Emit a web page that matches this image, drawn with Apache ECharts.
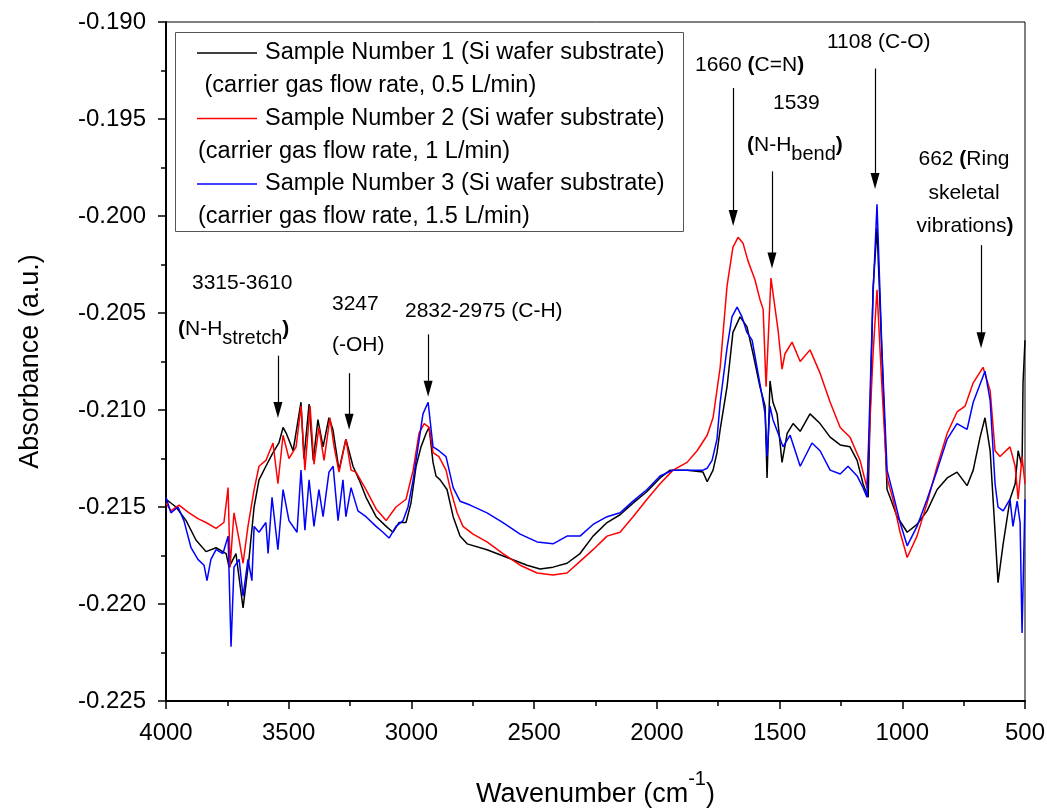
<!DOCTYPE html>
<html>
<head>
<meta charset="utf-8">
<title>FTIR spectra</title>
<script src="https://cdn.jsdelivr.net/npm/echarts@6/dist/echarts.min.js"></script>
<style>
    html, body {margin: 0; padding: 0; background: #fff;}
    #chart {width: 1047px; height: 808px;}
</style>
</head>
<body>
<div id="chart"></div>
<script>
// sample 1 (black), 0.5 L/min
const wn1 = [4000, 3959, 3918, 3878, 3837, 3796, 3755, 3743, 3715, 3686, 3662, 3641, 3621, 3593, 3564, 3540, 3523, 3510, 3482, 3450, 3438, 3417, 3400, 3381, 3360, 3336, 3320, 3295, 3267, 3238, 3213, 3185, 3144, 3103, 3075, 3051, 3022, 3002, 2981, 2961, 2940, 2928, 2912, 2900, 2883, 2855, 2830, 2802, 2773, 2692, 2610, 2529, 2476, 2423, 2366, 2313, 2260, 2203, 2150, 2097, 2040, 1987, 1946, 1877, 1812, 1795, 1771, 1755, 1742, 1714, 1690, 1661, 1633, 1608, 1580, 1559, 1551, 1539, 1527, 1510, 1490, 1469, 1445, 1416, 1376, 1335, 1294, 1253, 1213, 1184, 1160, 1139, 1119, 1103, 1083, 1062, 1050, 1021, 980, 940, 899, 858, 817, 777, 736, 711, 683, 663, 642, 622, 610, 589, 561, 540, 528, 512, 508, 500];
const abs1 = [-0.2146, -0.2150, -0.2157, -0.2167, -0.2173, -0.2171, -0.2174, -0.2181, -0.2174, -0.2202, -0.2177, -0.2150, -0.2136, -0.2129, -0.2122, -0.2117, -0.2109, -0.2112, -0.2121, -0.2096, -0.2125, -0.2097, -0.2126, -0.2105, -0.2119, -0.2104, -0.2110, -0.2131, -0.2115, -0.2129, -0.2136, -0.2145, -0.2155, -0.2160, -0.2163, -0.2158, -0.2158, -0.2148, -0.2129, -0.2119, -0.2112, -0.2109, -0.2127, -0.2134, -0.2136, -0.2141, -0.2155, -0.2165, -0.2169, -0.2172, -0.2176, -0.2180, -0.2182, -0.2181, -0.2179, -0.2174, -0.2165, -0.2158, -0.2154, -0.2148, -0.2142, -0.2135, -0.2131, -0.2131, -0.2132, -0.2137, -0.2131, -0.2122, -0.2110, -0.2088, -0.2060, -0.2052, -0.2057, -0.2071, -0.2088, -0.2098, -0.2135, -0.2085, -0.2096, -0.2102, -0.2127, -0.2112, -0.2107, -0.2111, -0.2102, -0.2107, -0.2114, -0.2118, -0.2119, -0.2126, -0.2138, -0.2145, -0.2037, -0.2006, -0.2071, -0.2141, -0.2145, -0.2155, -0.2163, -0.2159, -0.2152, -0.2141, -0.2135, -0.2132, -0.2139, -0.2131, -0.2114, -0.2104, -0.2121, -0.2163, -0.2189, -0.2169, -0.2146, -0.2138, -0.2121, -0.2129, -0.2086, -0.2064];

// sample 2 (red), 1 L/min
const wn2 = [4000, 3980, 3947, 3906, 3870, 3837, 3796, 3764, 3747, 3739, 3723, 3702, 3686, 3666, 3641, 3621, 3593, 3564, 3544, 3523, 3499, 3470, 3450, 3434, 3413, 3397, 3377, 3356, 3332, 3315, 3295, 3267, 3246, 3226, 3185, 3144, 3103, 3063, 3022, 2993, 2969, 2948, 2928, 2912, 2888, 2859, 2843, 2814, 2790, 2749, 2692, 2627, 2557, 2488, 2423, 2366, 2313, 2260, 2203, 2150, 2097, 2040, 1987, 1934, 1877, 1836, 1795, 1771, 1742, 1714, 1690, 1669, 1649, 1629, 1600, 1580, 1567, 1555, 1535, 1519, 1506, 1490, 1478, 1449, 1416, 1376, 1335, 1294, 1253, 1213, 1172, 1144, 1119, 1103, 1083, 1062, 1038, 1009, 980, 940, 899, 858, 817, 777, 744, 711, 671, 642, 622, 602, 561, 540, 528, 512, 500];
const abs2 = [-0.2148, -0.2152, -0.2149, -0.2153, -0.2156, -0.2158, -0.2161, -0.2158, -0.2140, -0.2181, -0.2153, -0.2167, -0.2179, -0.2160, -0.2141, -0.2129, -0.2126, -0.2117, -0.2138, -0.2113, -0.2125, -0.2119, -0.2098, -0.2131, -0.2098, -0.2128, -0.2109, -0.2126, -0.2104, -0.2119, -0.2132, -0.2115, -0.2131, -0.2132, -0.2141, -0.2151, -0.2157, -0.2150, -0.2146, -0.2131, -0.2112, -0.2107, -0.2109, -0.2122, -0.2124, -0.2131, -0.2140, -0.2153, -0.2160, -0.2164, -0.2168, -0.2174, -0.2180, -0.2184, -0.2185, -0.2184, -0.2178, -0.2172, -0.2165, -0.2163, -0.2155, -0.2146, -0.2138, -0.2131, -0.2127, -0.2121, -0.2113, -0.2104, -0.2078, -0.2036, -0.2016, -0.2011, -0.2014, -0.2023, -0.2033, -0.2043, -0.2048, -0.2088, -0.2032, -0.2047, -0.2059, -0.2079, -0.2071, -0.2065, -0.2075, -0.2069, -0.2081, -0.2096, -0.2109, -0.2114, -0.2126, -0.2140, -0.2071, -0.2038, -0.2088, -0.2135, -0.2146, -0.2163, -0.2176, -0.2165, -0.2148, -0.2129, -0.2112, -0.2101, -0.2098, -0.2086, -0.2078, -0.2090, -0.2121, -0.2124, -0.2119, -0.2129, -0.2146, -0.2124, -0.2138];

// sample 3 (blue), 1.5 L/min
const wn3 = [4000, 3980, 3951, 3927, 3898, 3870, 3845, 3833, 3817, 3796, 3768, 3747, 3735, 3723, 3702, 3686, 3666, 3650, 3641, 3621, 3593, 3584, 3568, 3544, 3523, 3499, 3466, 3450, 3434, 3417, 3397, 3377, 3360, 3336, 3319, 3299, 3279, 3267, 3246, 3218, 3185, 3144, 3116, 3091, 3063, 3034, 3014, 2993, 2973, 2953, 2932, 2912, 2888, 2859, 2830, 2802, 2761, 2692, 2627, 2557, 2488, 2423, 2366, 2313, 2260, 2203, 2150, 2097, 2040, 1987, 1934, 1877, 1812, 1795, 1775, 1755, 1742, 1714, 1694, 1673, 1653, 1633, 1612, 1592, 1571, 1559, 1551, 1539, 1527, 1506, 1486, 1457, 1416, 1368, 1335, 1294, 1253, 1221, 1184, 1160, 1144, 1119, 1103, 1083, 1062, 1038, 1009, 980, 940, 899, 858, 817, 777, 736, 711, 663, 642, 622, 610, 589, 561, 549, 532, 520, 512, 500];
const abs3 = [-0.2145, -0.2153, -0.2150, -0.2157, -0.2171, -0.2177, -0.2180, -0.2188, -0.2177, -0.2172, -0.2174, -0.2165, -0.2222, -0.2181, -0.2177, -0.2196, -0.2177, -0.2188, -0.2160, -0.2163, -0.2158, -0.2174, -0.2145, -0.2172, -0.2141, -0.2157, -0.2163, -0.2131, -0.2162, -0.2136, -0.2160, -0.2141, -0.2155, -0.2132, -0.2129, -0.2157, -0.2136, -0.2155, -0.2140, -0.2152, -0.2155, -0.2160, -0.2163, -0.2166, -0.2160, -0.2157, -0.2150, -0.2136, -0.2119, -0.2102, -0.2096, -0.2119, -0.2121, -0.2124, -0.2140, -0.2147, -0.2149, -0.2153, -0.2158, -0.2164, -0.2168, -0.2169, -0.2165, -0.2165, -0.2159, -0.2155, -0.2153, -0.2147, -0.2141, -0.2134, -0.2131, -0.2131, -0.2131, -0.2130, -0.2126, -0.2115, -0.2096, -0.2068, -0.2052, -0.2047, -0.2052, -0.2060, -0.2064, -0.2078, -0.2093, -0.2102, -0.2124, -0.2098, -0.2105, -0.2112, -0.2119, -0.2113, -0.2129, -0.2117, -0.2121, -0.2131, -0.2133, -0.2129, -0.2134, -0.2140, -0.2145, -0.2040, -0.1994, -0.2069, -0.2131, -0.2143, -0.2158, -0.2170, -0.2160, -0.2146, -0.2131, -0.2115, -0.2107, -0.2110, -0.2096, -0.2080, -0.2095, -0.2138, -0.2150, -0.2152, -0.2146, -0.2160, -0.2147, -0.2158, -0.2215, -0.2146];

const seriesColors = ['#000000', '#ff0000', '#0000ff'];
const seriesNames = [
    'Sample Number 1 (Si wafer substrate)',
    'Sample Number 2 (Si wafer substrate)',
    'Sample Number 3 (Si wafer substrate)',
];
const seriesNotes = [
    ' (carrier gas flow rate, 0.5 L/min)',
    '(carrier gas flow rate, 1 L/min)',
    '(carrier gas flow rate, 1.5 L/min)',
];

// arrows: [wavenumber, start value, arrow-head centre value]
const arrows = [
    [3544, -0.2072, -0.2100],
    [3254, -0.2081, -0.2106],
    [2932, -0.2061, -0.2089],
    [1689, -0.1934, -0.2001],
    [1531, -0.1977, -0.2023],
    [1111, -0.1924, -0.1982],
    [679, -0.2015, -0.2064],
];

const FONT = '"Liberation Sans", Arial, sans-serif';

const zip = (xs, ys) => xs.map((x, i) => [x, ys[i]]);

const chart = echarts.init(document.getElementById('chart'));

// legend drawn by hand: entry title next to a line sample, note on the next row
const legendGraphic = [{
    type: 'rect',
    shape: {x: 175.5, y: 32.5, width: 508, height: 199},
    style: {fill: '#fff', stroke: '#555', lineWidth: 1},
    z: 10,
}];
seriesNames.forEach((name, i) => {
    const rowY = 53 + i * 65.5;
    legendGraphic.push({
        type: 'line',
        shape: {x1: 197, y1: rowY, x2: 257, y2: rowY},
        style: {stroke: seriesColors[i], lineWidth: 1.5},
        z: 11,
    });
    legendGraphic.push({
        type: 'text', x: 265, y: rowY, z: 11,
        style: {text: name, font: '23.5px ' + FONT, fill: '#000', verticalAlign: 'middle'},
    });
    legendGraphic.push({
        type: 'text', x: 198, y: rowY + 33, z: 11,
        style: {text: seriesNotes[i], font: '23.5px ' + FONT, fill: '#000', verticalAlign: 'middle'},
    });
});

const annoRich = {
    n: {fontSize: 21, fontFamily: FONT, lineHeight: 24, verticalAlign: 'top'},
    b: {fontSize: 21, fontFamily: FONT, fontWeight: 'bold', lineHeight: 24, verticalAlign: 'top'},
    s: {fontSize: 20, fontFamily: FONT, lineHeight: 24, verticalAlign: 'top', padding: [9, 0, 0, 0]},
};
const annoText = (x, y, text, align) => ({
    type: 'text', x, y, z: 12,
    style: {text, rich: annoRich, fill: '#000', align: align || 'left', verticalAlign: 'middle'},
});

const annotations = [
    annoText(192, 285, '{n|3315-3610}'),
    annoText(178, 331, '{b|(}{n|N-H}{s|stretch}{b|)}'),
    annoText(332, 306, '{n|3247}'),
    annoText(332, 347, '{n|(-OH)}'),
    annoText(405, 313, '{n|2832-2975 (C-H)}'),
    annoText(695, 67, '{n|1660 }{b|(}{n|C=N}{b|)}'),
    annoText(827, 44, '{n|1108 (C-O)}'),
    annoText(773, 105, '{n|1539}'),
    annoText(747, 147, '{b|(}{n|N-H}{s|bend}{b|)}'),
    annoText(964, 161, '{n|662 }{b|(}{n|Ring}', 'center'),
    annoText(964, 195, '{n|skeletal}', 'center'),
    annoText(965, 228, '{n|vibrations}{b|)}', 'center'),
];

const option = {
    animation: false,
    backgroundColor: '#fff',
    textStyle: {fontFamily: FONT},
    grid: {
        left: 166, right: 22, top: 22, bottom: 107,
        outerBoundsMode: 'none',
        show: true, borderColor: '#000', borderWidth: 1,
    },
    xAxis: {
        type: 'value',
        inverse: true,
        min: 500, max: 4000, interval: 500,
        name: '{a|Wavenumber (cm}{b|-1}{a|)}',
        nameLocation: 'middle',
        nameGap: 68,
        nameTextStyle: {
            rich: {
                a: {fontSize: 27, fontFamily: FONT, color: '#000', verticalAlign: 'top', padding: [12, 0, 0, 0]},
                b: {fontSize: 20, fontFamily: FONT, color: '#000', verticalAlign: 'top'},
            },
        },
        axisLine: {onZero: false, lineStyle: {color: '#000', width: 2}},
        axisTick: {inside: false, length: 8, lineStyle: {color: '#000', width: 1.5}},
        minorTick: {show: true, splitNumber: 2, length: 5, lineStyle: {color: '#000', width: 1.5}},
        axisLabel: {color: '#000', fontSize: 24, margin: 20, formatter: v => String(v)},
        splitLine: {show: false},
    },
    yAxis: {
        type: 'value',
        min: -0.225, max: -0.190, interval: 0.005,
        name: 'Absorbance (a.u.)',
        nameLocation: 'middle',
        nameRotate: 90,
        nameGap: 122,
        nameTextStyle: {fontSize: 27, color: '#000'},
        axisLine: {onZero: false, lineStyle: {color: '#000', width: 2}},
        axisTick: {inside: false, length: 8, lineStyle: {color: '#000', width: 1.5}},
        minorTick: {show: true, splitNumber: 2, length: 5, lineStyle: {color: '#000', width: 1.5}},
        axisLabel: {color: '#000', fontSize: 24, margin: 20, formatter: v => v.toFixed(3)},
        splitLine: {show: false},
    },
    series: [
        {
            name: seriesNames[0], type: 'line', showSymbol: false, symbol: 'none',
            lineStyle: {color: seriesColors[0], width: 1.5},
            data: zip(wn1, abs1),
            markLine: {
                silent: true,
                symbol: ['none', 'triangle'],
                symbolSize: [9, 16],
                label: {show: false},
                emphasis: {disabled: true},
                lineStyle: {color: '#000', type: 'solid', width: 1.2},
                data: arrows.map(a => [{coord: [a[0], a[1]]}, {coord: [a[0], a[2]]}]),
            },
        },
        {
            name: seriesNames[1], type: 'line', showSymbol: false, symbol: 'none',
            lineStyle: {color: seriesColors[1], width: 1.5},
            data: zip(wn2, abs2),
        },
        {
            name: seriesNames[2], type: 'line', showSymbol: false, symbol: 'none',
            lineStyle: {color: seriesColors[2], width: 1.5},
            data: zip(wn3, abs3),
        },
    ],
    graphic: legendGraphic.concat(annotations),
};

chart.setOption(option);
</script>
</body>
</html>
